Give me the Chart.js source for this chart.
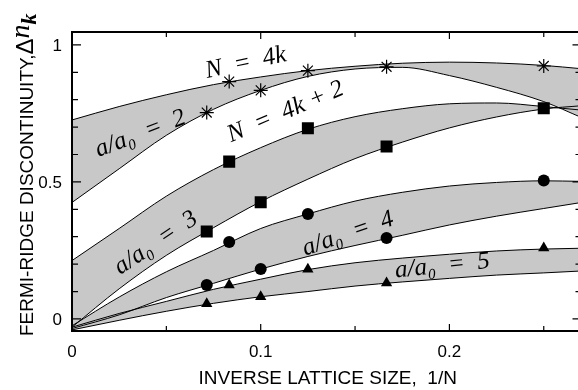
<!DOCTYPE html>
<html>
<head>
<meta charset="utf-8">
<script src="https://cdn.jsdelivr.net/npm/chart.js@4.4.0/dist/chart.umd.min.js"></script>
<style>
html, body { margin: 0; padding: 0; background: #fff; overflow: hidden; }
#wrap { width: 590px; height: 390px; }
</style>
</head>
<body>
<div id="wrap"><canvas id="chart" width="590" height="390"></canvas></div>
<script>
// fitted curves at these 1/N values
var curveX   = [0, 0.025, 0.05, 0.075, 0.1, 0.125, 0.15, 0.175, 0.2, 0.225, 0.25, 0.27];
var a2Upper  = [0.726, 0.775, 0.818, 0.855, 0.883, 0.906, 0.922, 0.933, 0.937, 0.934, 0.925, 0.913];
var a2Lower  = [0.425, 0.548, 0.670, 0.765, 0.834, 0.885, 0.912, 0.918, 0.888, 0.845, 0.793, 0.735];
var a3Upper  = [0.213, 0.330, 0.448, 0.545, 0.625, 0.692, 0.738, 0.767, 0.785, 0.788, 0.775, 0.762];
var a3Lower  = [-0.030, 0.110, 0.232, 0.333, 0.428, 0.510, 0.585, 0.645, 0.697, 0.737, 0.766, 0.778];
var a4Upper  = [-0.025, 0.080, 0.172, 0.250, 0.330, 0.383, 0.430, 0.462, 0.485, 0.498, 0.504, 0.502];
var a4Lower  = [-0.035, 0.015, 0.078, 0.130, 0.182, 0.228, 0.268, 0.305, 0.343, 0.375, 0.403, 0.425];
var a5Upper  = [-0.030, 0.020, 0.064, 0.108, 0.145, 0.180, 0.205, 0.222, 0.236, 0.248, 0.255, 0.258];
var a5Lower  = [-0.040, -0.005, 0.028, 0.057, 0.081, 0.100, 0.120, 0.135, 0.148, 0.160, 0.168, 0.175];

// measured points, N = 14, 12, 10, 8, 6, 4
var invSize   = [0.0714, 0.0833, 0.1, 0.125, 0.1667, 0.25];
var starY     = [0.753, 0.866, 0.834, 0.906, 0.920, 0.923];
var squareY   = [0.319, 0.574, 0.426, 0.696, 0.629, 0.769];
var circleY   = [0.124, 0.281, 0.182, 0.383, 0.295, 0.505];
var triangleY = [0.055, 0.124, 0.081, 0.181, 0.131, 0.259];

var xTicks = [0, 0.05, 0.1, 0.15, 0.2, 0.25];
var xTickLabels = ['0', '', '0.1', '', '0.2', ''];
var yTicks = [0, 0.1, 0.2, 0.3, 0.4, 0.5, 0.6, 0.7, 0.8, 0.9, 1];
var yTickLabels = ['0', '', '', '', '', '0.5', '', '', '', '', '1'];

var SANS = '"Liberation Sans", Arial, Helvetica, sans-serif';
var SERIF = '"Liberation Serif", "Times New Roman", serif';
var GRAY = '#c8c8c8';

function pts(xs, ys) {
    return xs.map(function (x, i) { return { x: x, y: ys[i] }; });
}

function curve(ys, fillNext) {
    return {
        data: pts(curveX, ys),
        borderColor: '#000',
        borderWidth: 1,
        backgroundColor: GRAY,
        pointRadius: 0,
        fill: fillNext ? '+1' : false,
        cubicInterpolationMode: 'monotone'
    };
}

function marks(ys, style, radius, bw) {
    return {
        data: pts(invSize, ys),
        showLine: false,
        pointStyle: style,
        pointRadius: radius,
        borderColor: '#000',
        backgroundColor: '#000',
        borderWidth: bw,
        fill: false
    };
}

var EN = '\u2002';
var textLabels = [
    { text: 'N' + EN + '=' + EN + '4k', x: 0.0921, y: 0.934, angle: -12 },
    { text: 'N' + EN + '=' + EN + '4k + 2', x: 0.1132, y: 0.755, angle: -23 },
    { text: 'a/a\u2080' + EN + '=' + EN + '2', x: 0.0363, y: 0.675, angle: -21 },
    { text: 'a/a\u2080' + EN + '=' + EN + '3', x: 0.0445, y: 0.277, angle: -34 },
    { text: 'a/a\u2080' + EN + '=' + EN + '4', x: 0.1463, y: 0.310, angle: -19 },
    { text: 'a/a\u2080' + EN + '=' + EN + '5', x: 0.1963, y: 0.193, angle: -6 }
];

var decor = {
    id: 'decor',
    afterDraw: function (chart) {
        var ctx = chart.ctx;
        var a = chart.chartArea;
        var xs = chart.scales.x, ys = chart.scales.y;
        ctx.save();
        ctx.strokeStyle = '#000';
        ctx.fillStyle = '#000';

        // ticks pointing inward
        ctx.lineWidth = 1.2;
        ctx.beginPath();
        xTicks.forEach(function (v, i) {
            var px = xs.getPixelForValue(v);
            var len = xTickLabels[i] ? 7 : 5;
            ctx.moveTo(px, a.bottom); ctx.lineTo(px, a.bottom - len);
            ctx.moveTo(px, a.top); ctx.lineTo(px, a.top + len);
        });
        yTicks.forEach(function (v, i) {
            var py = ys.getPixelForValue(v);
            var len = yTickLabels[i] ? 9 : 6;
            ctx.moveTo(a.left, py); ctx.lineTo(a.left + len, py);
            ctx.moveTo(a.right, py); ctx.lineTo(a.right - len, py);
        });
        ctx.stroke();

        // frame
        ctx.lineWidth = 2;
        ctx.strokeRect(a.left, a.top, a.right - a.left, a.bottom - a.top);

        // tick labels
        ctx.font = '17px ' + SANS;
        ctx.textBaseline = 'alphabetic';
        ctx.textAlign = 'center';
        xTicks.forEach(function (v, i) {
            if (xTickLabels[i]) ctx.fillText(xTickLabels[i], xs.getPixelForValue(v), a.bottom + 26);
        });
        ctx.textAlign = 'right';
        yTicks.forEach(function (v, i) {
            if (yTickLabels[i]) ctx.fillText(yTickLabels[i], a.left - 10, ys.getPixelForValue(v) + 6);
        });

        // curve labels
        ctx.font = 'italic 25px ' + SERIF;
        ctx.textAlign = 'center';
        ctx.textBaseline = 'middle';
        textLabels.forEach(function (l) {
            ctx.save();
            ctx.translate(xs.getPixelForValue(l.x), ys.getPixelForValue(l.y));
            ctx.rotate(l.angle * Math.PI / 180);
            ctx.fillText(l.text, 0, 0);
            ctx.restore();
        });

        // x axis title
        ctx.font = '19px ' + SANS;
        ctx.textBaseline = 'alphabetic';
        ctx.fillText('INVERSE LATTICE SIZE,  1/N', (a.left + a.right) / 2 + 1, 384);

        // y axis title, mixed fonts
        ctx.save();
        ctx.translate(33, a.bottom + 5);
        ctx.rotate(-Math.PI / 2);
        ctx.textAlign = 'left';
        var parts = [
            { t: 'FERMI-RIDGE DISCONTINUITY,', f: '19px ' + SANS, dy: 0 },
            { t: '\u0394', f: '24px ' + SANS, dy: 0 },
            { t: 'n', f: 'italic 28px ' + SERIF, dy: -4 },
            { t: 'k', f: 'bold italic 22px ' + SERIF, dy: 3 }
        ];
        var cx = 0;
        parts.forEach(function (p) {
            ctx.font = p.f;
            ctx.fillText(p.t, cx, p.dy);
            cx += ctx.measureText(p.t).width;
        });
        ctx.restore();

        ctx.restore();
    }
};

var chart = new Chart(document.getElementById('chart'), {
    type: 'line',
    data: {
        datasets: [
            curve(a2Upper, true), curve(a2Lower, false),
            curve(a3Upper, true), curve(a3Lower, false),
            curve(a4Upper, true), curve(a4Lower, false),
            curve(a5Upper, true), curve(a5Lower, false),
            marks(starY, 'star', 7, 1.2),
            marks(squareY, 'rect', 8.5, 0),
            marks(circleY, 'circle', 6, 0),
            marks(triangleY, 'triangle', 6.5, 0)
        ]
    },
    options: {
        responsive: false,
        animation: false,
        events: [],
        layout: { padding: { top: 32, right: 5, left: 0, bottom: 0 } },
        plugins: {
            legend: { display: false },
            tooltip: { enabled: false },
            filler: { propagate: false, drawTime: 'beforeDatasetsDraw' }
        },
        scales: {
            x: {
                type: 'linear',
                min: 0,
                max: 0.27,
                grid: { display: false },
                border: { display: false },
                afterBuildTicks: function (s) { s.ticks = xTicks.map(function (v) { return { value: v }; }); },
                afterFit: function (s) { s.height = 59; },
                ticks: { display: false }
            },
            y: {
                min: -0.044,
                max: 1.047,
                grid: { display: false },
                border: { display: false },
                afterBuildTicks: function (s) { s.ticks = yTicks.map(function (v) { return { value: v }; }); },
                afterFit: function (s) { s.width = 72; },
                ticks: { display: false }
            }
        }
    },
    plugins: [decor]
});
</script>
</body>
</html>
